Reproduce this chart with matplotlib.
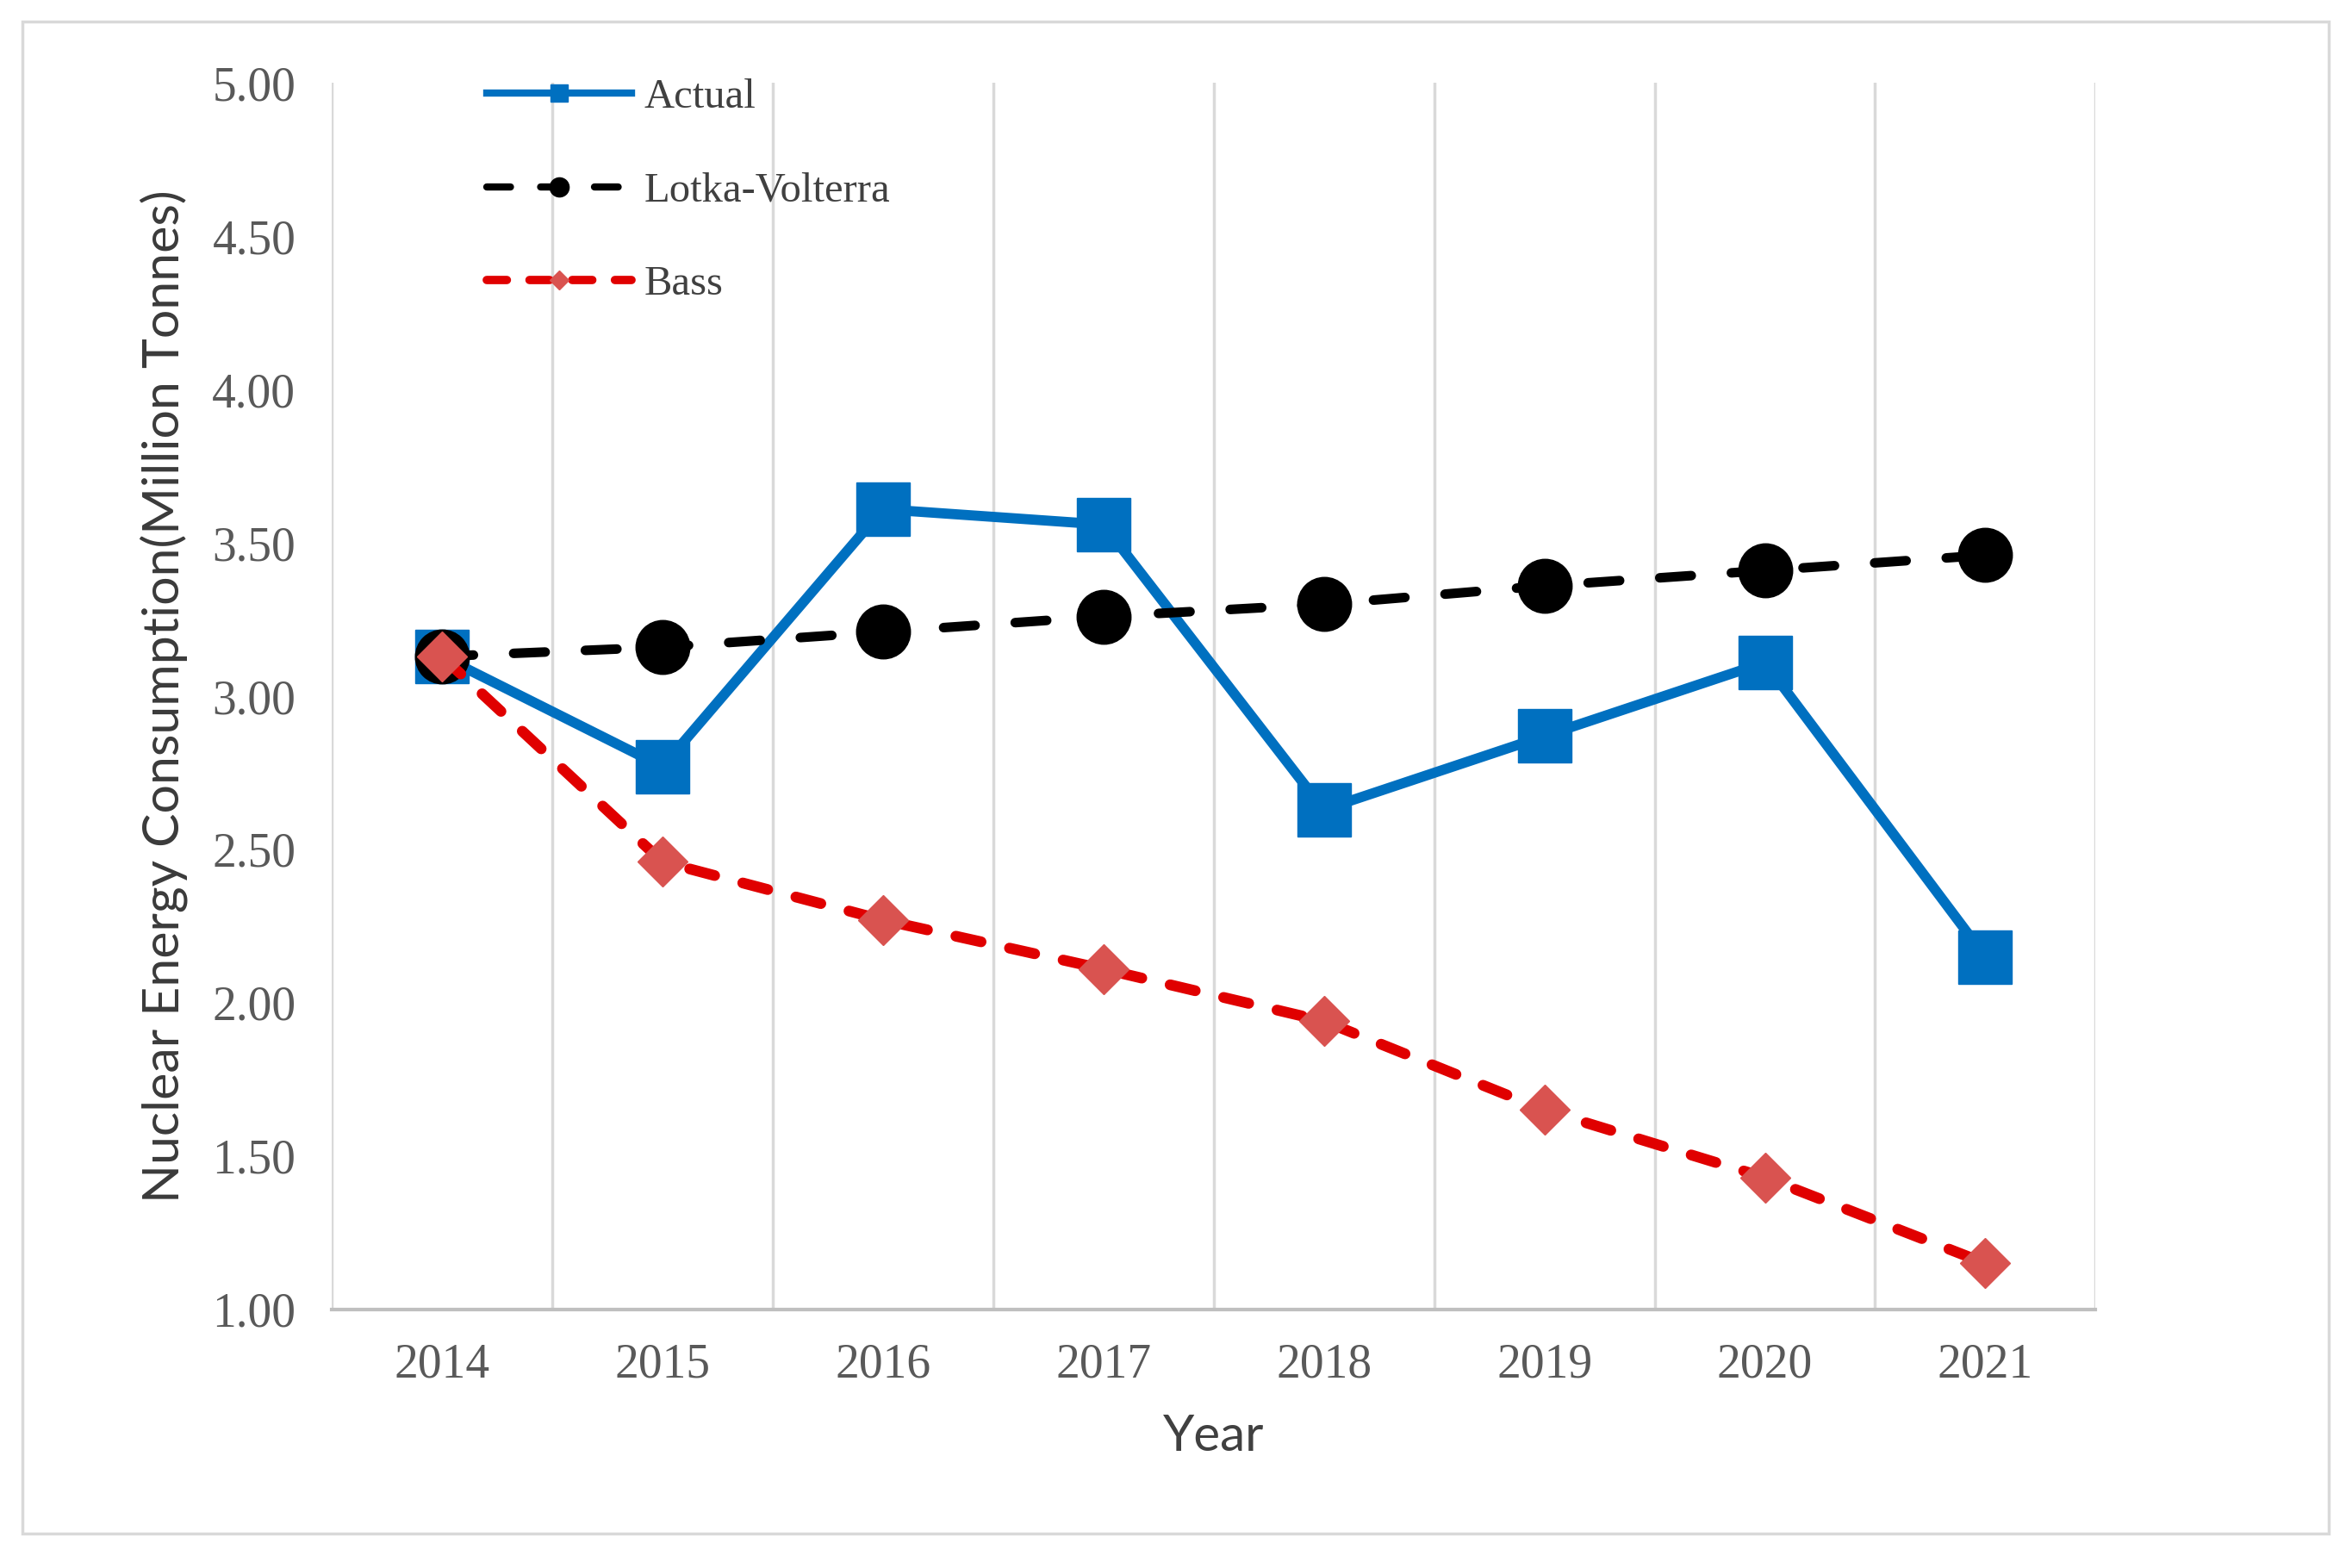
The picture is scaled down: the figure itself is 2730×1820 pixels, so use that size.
import numpy as np
import matplotlib
matplotlib.use("Agg")
import matplotlib.pyplot as plt
from matplotlib.lines import Line2D
from matplotlib.patches import Rectangle

# data
years = ["2014", "2015", "2016", "2017", "2018", "2019", "2020", "2021"]
actual = [3.13, 2.77, 3.61, 3.56, 2.63, 2.87, 3.11, 2.15]
lotka = [3.13, 3.16, 3.21, 3.26, 3.30, 3.36, 3.41, 3.46]
bass = [3.13, 2.46, 2.27, 2.11, 1.94, 1.65, 1.43, 1.15]
yticks = [1.00, 1.50, 2.00, 2.50, 3.00, 3.50, 4.00, 4.50, 5.00]

blue = "#0070C0"
red = "#E00000"
diamond = "#D95350"
serif = "Liberation Serif"
sans = "Lato"

fig = plt.figure(figsize=(27.3, 18.2), dpi=100)
ax = fig.add_axes([0.141, 0.165, 0.75, 0.782])

x = np.arange(len(years))

ax.plot(x, actual, color=blue, lw=8.5, marker="s", ms=45,
        markerfacecolor=blue, markeredgecolor=blue, zorder=3)
ax.plot(x, lotka, color="black", lw=8, dashes=(3.3, 4.2),
        dash_capstyle="round", marker="o", ms=45, zorder=4)
ax.plot(x, bass, color=red, lw=9, dashes=(2.4, 2.7),
        dash_capstyle="round", marker="D", ms=30,
        markerfacecolor=diamond, markeredgecolor=diamond, zorder=5)

ax.set_xlim(-0.5, len(years) - 0.5)
ax.set_ylim(1, 5)
ax.set_xticks(x)
ax.set_xticklabels(years, fontfamily=serif, fontsize=40, color="#595959")
ax.set_yticks(yticks)
ax.set_yticklabels(["%.2f" % v for v in yticks], fontfamily=serif,
                   fontsize=40, color="#595959")
ax.tick_params(axis="both", length=0)
ax.tick_params(axis="x", pad=28)
ax.tick_params(axis="y", pad=30)

ax.set_xticks(np.arange(-0.5, len(years)), minor=True)
ax.tick_params(which="minor", length=0)
ax.grid(which="minor", axis="x", color="#D9D9D9", lw=2.5)
ax.grid(which="major", visible=False)

for s in ["top", "right", "left"]:
    ax.spines[s].set_visible(False)
ax.spines["bottom"].set_color("#BFBFBF")
ax.spines["bottom"].set_linewidth(3)

ax.set_xlabel("Year", fontfamily=sans, fontsize=42, color="#404040", labelpad=22)
ax.set_ylabel("Nuclear Energy Consumption(Million Tonnes)", fontfamily=sans,
              fontsize=42.5, color="#3A3A3A", labelpad=20)

handles = [
    Line2D([], [], color=blue, lw=6, marker="s", ms=15, markeredgecolor=blue),
    Line2D([], [], color="black", lw=6, dashes=(3.3, 4.2), dash_capstyle="round",
           marker="o", ms=16),
    Line2D([], [], color=red, lw=7, dashes=(2.4, 2.7), dash_capstyle="round",
           marker="D", ms=11, markerfacecolor=diamond, markeredgecolor=diamond),
]
leg = ax.legend(handles, ["Actual", "Lotka-Volterra", "Bass"], loc="upper left",
                bbox_to_anchor=(0.207, 0.950), bbox_transform=fig.transFigure,
                frameon=False, borderpad=0, borderaxespad=0, handlelength=3.45,
                handletextpad=0.3, labelspacing=1.33, numpoints=1,
                prop={"family": serif, "size": 35})
for t in leg.get_texts():
    t.set_color("#404040")

fig.patches.append(Rectangle((0.0096, 0.022), 0.9804, 0.964, transform=fig.transFigure,
                             fill=False, edgecolor="#D9D9D9", lw=2.5))

fig.savefig("out.png", dpi=100, facecolor="white")
